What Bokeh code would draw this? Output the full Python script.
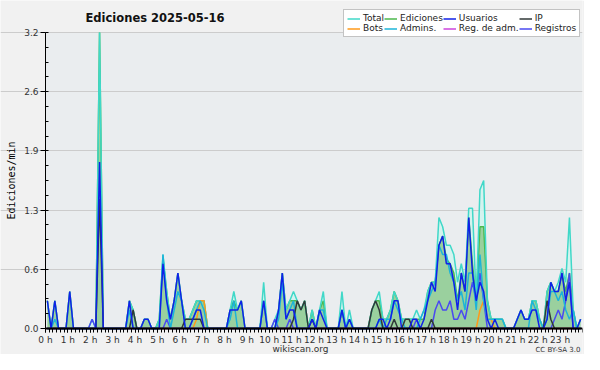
from bokeh.plotting import figure
from bokeh.models import ColumnDataSource, FixedTicker, Legend, LegendItem, Range1d
from bokeh.core.properties import value
from bokeh.embed import file_html
from bokeh.resources import INLINE

# 10-minute bins (144 per day); values are edits per minute
hour_ticks = [h * 60 for h in range(24)]
hour_labels = [f"{h} h" for h in range(24)]
y_ticks = [0, 0.64, 1.28, 1.92, 2.56, 3.2]
y_labels = ["0.0", "0.6", "1.3", "1.9", "2.6", "3.2"]

total = [
    .3, 0, .3, 0, 0, 0,   .4, 0, 0, 0, 0, 0,   .1, 0, 3.2, 0, 0, 0,   0, 0, 0, 0, .3, .2,
    0, 0, .1, .1, 0, 0,   .1, .8, .4, .1, .3, .6,   .3, .1, .1, .2, .3, .3,   .3, 0, 0, 0, 0, 0,
    0, .2, .4, .2, .3, 0,   0, 0, 0, 0, .5, 0,   0, .1, .2, .6, .2, .3,   .4, .3, .2, .3, 0, .2,
    0, .2, .4, 0, 0, 0,   0, .4, 0, .2, 0, 0,   0, 0, 0, .2, .3, .4,   .1, .1, .2, .4, .3, .1,
    .1, .1, .1, .2, .1, .2,   .4, .5, .5, 1.2, 1.1, .9,   .9, .8, .5, .7, .5, 1.3,   1.3, .3, 1.5, 1.6, .3, .1,
    .1, .1, .1, 0, 0, 0,   .1, .2, .1, .1, .3, .3,   .1, 0, .4, .5, .4, .5,   .65, .5, 1.2, .2, 0, .1,
]
ediciones = [
    .3, 0, .3, 0, 0, 0,   .4, 0, 0, 0, 0, 0,   0, 0, 3.2, 0, 0, 0,   0, 0, 0, 0, .3, .2,
    0, 0, .1, .1, 0, 0,   .1, .75, .4, .1, .3, .6,   .3, .1, .1, .2, .3, .3,   .3, 0, 0, 0, 0, 0,
    0, .2, .3, .2, .3, 0,   0, 0, 0, 0, .3, 0,   0, 0, .2, .6, .2, .3,   .3, .3, .2, .3, 0, .2,
    0, .2, .3, 0, 0, 0,   0, .2, 0, .1, 0, 0,   0, 0, 0, .2, .3, .3,   .1, .1, .2, .4, .3, .1,
    .1, .1, .1, .1, .1, .1,   .4, .5, .5, .9, 1.0, .75,   .7, .6, .3, .6, .4, 1.2,   .7, .3, 1.1, 1.1, .3, .1,
    .1, .1, .1, 0, 0, 0,   .1, .2, .1, .1, .3, .3,   .1, 0, .4, .5, .4, .4,   .6, .4, .6, .2, 0, .1,
]
usuarios = [
    .3, 0, .3, 0, 0, 0,   .4, 0, 0, 0, 0, 0,   0, 0, 1.8, 0, 0, 0,   0, 0, 0, 0, .3, 0,
    0, 0, .1, .1, 0, 0,   0, .7, .3, .1, .3, .6,   .3, 0, 0, .1, .2, .2,   0, 0, 0, 0, 0, 0,
    0, .2, .2, .2, .3, 0,   0, 0, 0, 0, .3, 0,   0, 0, .2, .6, .1, .2,   .2, 0, 0, 0, 0, .1,
    0, .2, .1, 0, 0, 0,   0, .2, 0, .1, 0, 0,   0, 0, 0, 0, 0, .1,   .1, 0, .1, .3, .3, 0,
    0, 0, .1, .1, 0, .1,   .3, .5, .4, .9, 1.0, .7,   .7, .5, .2, .6, .4, 1.2,   .6, .3, .5, .4, .1, 0,
    .1, 0, 0, 0, 0, 0,   .1, .2, .1, .1, .2, .2,   0, 0, .1, .5, .4, .4,   .6, .3, .5, 0, 0, .1,
]
ip = [
    0, 0, 0, 0, 0, 0,   0, 0, 0, 0, 0, 0,   0, 0, 1.4, 0, 0, 0,   0, 0, 0, 0, 0, .2,
    0, 0, 0, 0, 0, 0,   0, 0, 0, 0, 0, 0,   0, .1, .1, .1, .1, .1,   0, 0, 0, 0, 0, 0,
    0, 0, 0, 0, 0, 0,   0, 0, 0, 0, 0, 0,   0, 0, 0, 0, 0, 0,   .1, .3, .2, .3, 0, .1,
    0, 0, 0, 0, 0, 0,   0, 0, 0, 0, 0, 0,   0, 0, 0, .2, .3, .2,   0, 0, 0, .1, 0, 0,
    .1, .1, 0, 0, 0, 0,   0, .1, 0, 0, 0, 0,   0, 0, 0, 0, 0, 0,   0, 0, 0, 0, 0, 0,
    0, 0, 0, 0, 0, 0,   0, 0, 0, 0, 0, 0,   0, 0, .3, .1, 0, 0,   0, 0, 0, 0, 0, 0,
]
bots = [
    0, 0, 0, 0, 0, 0,   0, 0, 0, 0, 0, 0,   0, 0, 0, 0, 0, 0,   0, 0, 0, 0, 0, 0,
    0, 0, 0, 0, 0, 0,   0, 0, 0, 0, 0, 0,   0, 0, 0, 0, .1, .3,   .3, 0, 0, 0, 0, 0,
    0, 0, 0, 0, 0, 0,   0, 0, 0, 0, 0, 0,   0, 0, 0, 0, 0, 0,   0, 0, 0, 0, 0, 0,
    0, 0, 0, 0, 0, 0,   0, 0, 0, 0, 0, 0,   0, 0, 0, 0, 0, 0,   0, 0, 0, 0, 0, 0,
    0, 0, 0, 0, 0, 0,   0, 0, 0, 0, 0, 0,   0, 0, 0, 0, 0, 0,   0, 0, .2, .3, .1, .1,
    0, 0, 0, 0, 0, 0,   0, 0, 0, 0, 0, 0,   0, 0, 0, 0, 0, 0,   0, 0, 0, 0, 0, 0,
]
admins = [
    0, 0, .1, 0, 0, 0,   0, 0, 0, 0, 0, 0,   0, 0, 0, 0, 0, 0,   0, 0, 0, 0, .2, 0,
    0, 0, 0, 0, 0, 0,   0, .8, .3, 0, .2, .4,   .3, 0, 0, .1, .2, .3,   .2, 0, 0, 0, 0, 0,
    0, .1, .3, 0, 0, 0,   0, 0, 0, 0, .3, 0,   0, 0, .1, .5, .1, .2,   .3, 0, 0, 0, 0, 0,
    0, .2, .2, 0, 0, 0,   0, .2, 0, .1, 0, 0,   0, 0, 0, 0, 0, .1,   0, .1, .1, .3, .2, .1,
    0, 0, 0, 0, .1, .2,   .3, .4, .5, .9, .8, .8,   .6, .5, .3, .4, .2, .6,   .6, .2, .8, .3, .1, .1,
    .1, .1, .1, 0, 0, 0,   0, 0, 0, 0, .3, .2,   .1, 0, .1, .4, .4, .3,   .4, .2, .1, .2, 0, 0,
]
reg_adm = [0] * 144
registros = [
    0, 0, 0, 0, 0, 0,   0, 0, 0, 0, 0, 0,   .1, 0, 0, 0, 0, 0,   0, 0, 0, 0, 0, 0,
    0, 0, 0, 0, 0, 0,   0, 0, .1, 0, 0, 0,   0, 0, 0, 0, 0, 0,   0, 0, 0, 0, 0, 0,
    0, 0, 0, 0, 0, 0,   0, 0, 0, 0, 0, 0,   0, .1, 0, 0, 0, .1,   0, 0, 0, 0, 0, 0,
    0, 0, 0, 0, 0, 0,   0, 0, 0, 0, 0, 0,   0, 0, 0, 0, 0, 0,   0, 0, 0, 0, 0, 0,
    0, 0, 0, .1, 0, 0,   0, 0, .2, .3, .2, .2,   .3, .1, .1, .2, .1, .3,   .5, .3, .6, .3, 0, 0,
    0, 0, 0, 0, 0, 0,   0, 0, 0, 0, 0, 0,   0, 0, 0, 0, .1, .2,   .1, .3, .6, 0, 0, 0,
]

# ---- layout (canvas pixels) ----
W, H = 584, 354
RIGHT_BORDER = 2
ZERO_X_PX, END_X_PX = 45, W - RIGHT_BORDER      # where 0 h and 24 h sit
ZERO_PX, TOP_PX = 328, 32                       # where y=0 and y=max sit
x_max = 1440
y_max = y_ticks[-1]
ppu_x = (END_X_PX - ZERO_X_PX) / x_max
ppu_y = (ZERO_PX - TOP_PX) / y_max
x_start = -ZERO_X_PX / ppu_x
y_start = -(H - ZERO_PX) / ppu_y
y_end = y_max + TOP_PX / ppu_y


def px_to_data(px, py):
    return (px - ZERO_X_PX) / ppu_x, (ZERO_PX - py) / ppu_y


minutes = [i * 10 + 5 for i in range(len(total))]
src = ColumnDataSource(dict(t=minutes, total=total, ed=ediciones, us=usuarios, ip=ip,
                            bots=bots, adm=admins, radm=reg_adm, reg=registros,
                            zero=[0] * len(total)))

p = figure(width=W, height=H, output_backend="svg", toolbar_location=None,
           x_range=Range1d(x_start, x_max), y_range=Range1d(y_start, y_end),
           min_border_left=0, min_border_right=RIGHT_BORDER, min_border_top=0,
           min_border_bottom=0,
           background_fill_color="#f1f1f1", border_fill_color="#f1f1f1")
p.outline_line_color = None

# plotting-area background (0 h .. 24 h, 0 .. top tick)
p.quad(left=[0], right=[x_max], bottom=[0], top=[y_max],
       fill_color="#eaedef", line_color=None, level="image")

# fills
p.varea(x="t", y1="zero", y2="total", source=src, fill_color="#d2f3ee", fill_alpha=0.9)
p.varea(x="t", y1="zero", y2="ed", source=src, fill_color="#8fc98f", fill_alpha=0.85)

lw = 1.5
r_ed = p.line("t", "ed", source=src, line_color="#4cb84c", line_width=lw)
r_total = p.line("t", "total", source=src, line_color="#40d8c8", line_width=lw)
r_bots = p.line("t", "bots", source=src, line_color="#ff9a1a", line_width=lw)
r_radm = p.line("t", "radm", source=src, line_color="#cc44dd", line_width=lw)
r_reg = p.line("t", "reg", source=src, line_color="#4a4af0", line_width=lw)
r_adm = p.line("t", "adm", source=src, line_color="#1cb4d8", line_width=lw)
r_ip = p.line("t", "ip", source=src, line_color="#303838", line_width=lw)
r_us = p.line("t", "us", source=src, line_color="#1020e8", line_width=lw)

legend = Legend(items=[
    LegendItem(label="Total", renderers=[r_total]),
    LegendItem(label="Ediciones", renderers=[r_ed]),
    LegendItem(label="Usuarios", renderers=[r_us]),
    LegendItem(label="IP", renderers=[r_ip]),
    LegendItem(label="Bots", renderers=[r_bots]),
    LegendItem(label="Admins.", renderers=[r_adm]),
    LegendItem(label="Reg. de adm.", renderers=[r_radm]),
    LegendItem(label="Registros", renderers=[r_reg]),
], orientation="horizontal", ncols=4, location=(343, H - 37))
legend.label_text_font = "DejaVu Sans"
legend.label_text_font_size = "9px"
legend.label_text_color = "#222222"
legend.label_height = 9
legend.label_standoff = 3
legend.glyph_width = 13
legend.glyph_height = 9
legend.spacing = 0
legend.padding = 3
legend.margin = 0
legend.border_line_color = "#888888"
legend.background_fill_color = "white"
legend.background_fill_alpha = 1.0
p.add_layout(legend)

# title and footer texts
tx, ty = px_to_data(85, 17)
p.text(x=[tx], y=[ty], text=["Ediciones  2025-05-16"], text_font=value("DejaVu Sans"),
       text_font_style="bold", text_font_size="11.5px", text_color="#111111",
       text_baseline="middle", text_align="left")
wx, wy = px_to_data(300, 348)
p.text(x=[wx], y=[wy], text=["wikiscan.org"], text_font=value("DejaVu Sans"),
       text_font_size="9px", text_color="#333333", text_baseline="middle", text_align="center")
cx, cy = px_to_data(580, 349)
p.text(x=[cx], y=[cy], text=["CC BY-SA 3.0"], text_font=value("DejaVu Sans"),
       text_font_size="7px", text_color="#333333", text_baseline="middle", text_align="right")

# axes (placed at the data origin)
p.xaxis.fixed_location = 0
p.xaxis.bounds = (0, x_max)
p.xaxis.ticker = FixedTicker(ticks=hour_ticks, minor_ticks=list(range(0, x_max + 1, 10)))
p.xaxis.major_label_overrides = {t: l for t, l in zip(hour_ticks, hour_labels)}
p.yaxis.fixed_location = 0
p.yaxis.bounds = (0, y_max)
p.yaxis.ticker = FixedTicker(ticks=y_ticks, minor_ticks=[i * 0.16 for i in range(21)])
p.yaxis.major_label_overrides = {t: l for t, l in zip(y_ticks, y_labels)}
for ax in (p.xaxis, p.yaxis):
    ax.axis_line_color = "black"
    ax.major_tick_line_color = "black"
    ax.minor_tick_line_color = "black"
    ax.major_label_text_font = "DejaVu Sans"
    ax.major_label_text_font_size = "9px"
    ax.major_label_text_color = "#333333"
    ax.major_label_standoff = 2
p.xaxis.axis_line_width = 2
p.xaxis.major_tick_in = 0
p.xaxis.major_tick_out = 4
p.xaxis.minor_tick_in = 0
p.xaxis.minor_tick_out = 4
p.yaxis.major_tick_in = 0
p.yaxis.major_tick_out = 5
p.yaxis.minor_tick_in = 3
p.yaxis.minor_tick_out = 0
p.yaxis.axis_label = "Ediciones/min"
p.yaxis.axis_label_text_font = "DejaVu Sans Mono"
p.yaxis.axis_label_text_font_size = "10px"
p.yaxis.axis_label_text_font_style = "normal"
p.yaxis.axis_label_text_color = "black"
p.yaxis.axis_label_standoff = 4
p.xgrid.grid_line_color = None
p.ygrid.grid_line_color = "#cccccc"
p.ygrid.bounds = (0, x_max)
p.ygrid.ticker = FixedTicker(ticks=y_ticks[1:])

open("out.html", "w").write(file_html(p, INLINE))
